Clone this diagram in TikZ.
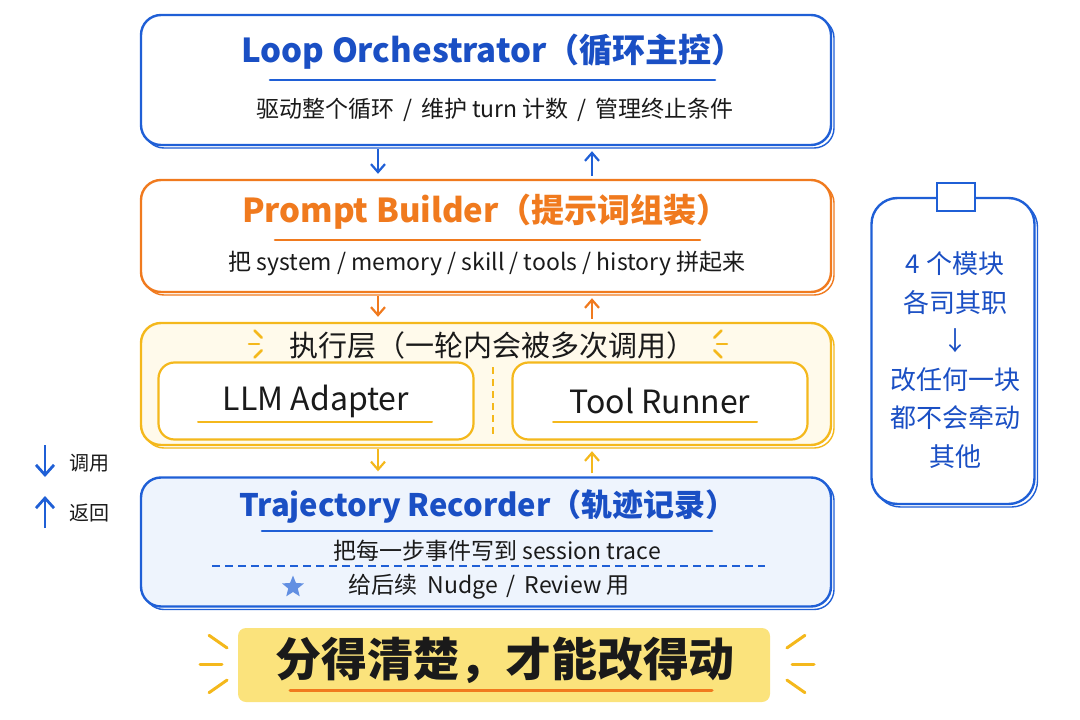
\documentclass[tikz,border=0pt]{standalone}
\usepackage{fontspec}
\setmainfont{Noto Sans CJK SC}
\usetikzlibrary{arrows.meta,positioning,shadows,shapes.geometric}

\definecolor{penblue}{HTML}{1F5FD6}
\definecolor{inkblue}{HTML}{1A4FC4}
\definecolor{penorange}{HTML}{F07A1E}
\definecolor{penyellow}{HTML}{F4B81C}
\definecolor{cream}{HTML}{FFFAEB}
\definecolor{iceblue}{HTML}{EEF4FD}
\definecolor{marker}{HTML}{FBE37C}
\definecolor{ink}{HTML}{1A1A1A}

\begin{document}
\begin{tikzpicture}[
  x=1pt,y=-1pt,
  panel/.style={rectangle,draw=#1,line width=2.4pt,rounded corners=20pt,minimum width=690pt,
    copy shadow={shadow xshift=3pt,shadow yshift=-3pt,draw=#1,line width=1.4pt,fill=white}},
  inner/.style={rectangle,draw=penyellow,line width=2.2pt,rounded corners=16pt,fill=white,
    minimum height=77pt,font=\fontsize{32}{36}\selectfont,text=ink},
  title/.style={font=\fontsize{33}{38}\selectfont\bfseries},
  sub/.style={font=\fontsize{23}{27}\selectfont,text=ink},
  uline/.style={line width=2.6pt,line cap=round},
  call/.style={-{Straight Barb[length=8pt,width=14pt]},line width=2.2pt,shorten <=3pt,shorten >=5pt},
  spark/.style={line width=2.6pt,line cap=round,penyellow}
]
\useasboundingbox (0,0) rectangle (1080,720);

% four modules
\node[panel=penblue,fill=white,minimum height=130pt] (loop) at (486,80) {};
\node[panel=penorange,fill=white,minimum height=112pt] (prompt) at (486,236) {};
\node[panel=penyellow,fill=cream,minimum height=122pt] (exec) at (486,384) {};
\node[panel=penblue,fill=iceblue,minimum height=129pt] (traj) at (486,542) {};

\node[title,text=inkblue] (looptitle) at (493,52) {Loop Orchestrator（循环主控）};
\draw[uline,penblue] (270,80) -- (715,80);
\node[sub] (loopsub) at (495,110) {驱动整个循环\ \,/\ \,维护 turn 计数\ \,/\ \,管理终止条件};

\node[title,text=penorange] (prompttitle) at (486,212) {Prompt Builder（提示词组装）};
\draw[uline,penorange] (275,240) -- (700,240);
\node[sub] (promptsub) at (487,264) {把 system / memory / skill / tools / history 拼起来};

\node[font=\fontsize{29}{34}\selectfont,text=ink] (exectitle) at (492,345) {执行层（一轮内会被多次调用）};
\node[inner,minimum width=315pt] (llm) at (316,401) {LLM Adapter};
\node[inner,minimum width=295pt] (tool) at (660,401) {Tool Runner};
\draw[uline,penyellow,line width=2pt] (198,422) -- (432,422);
\draw[uline,penyellow,line width=2pt] (553,422) -- (757,422);
\draw[penyellow,line width=1.5pt,dash pattern=on 7pt off 5pt] (493,367) -- (493,438);
\foreach \a in {135,180,225} {
  \draw[spark] ([shift={(\a:9)}]268,344) -- ([shift={(\a:19)}]268,344);
  \draw[spark] ([shift={(180-\a:9)}]708,344) -- ([shift={(180-\a:19)}]708,344);
}

\node[title,font=\fontsize{31}{36}\selectfont\bfseries,text=inkblue] (trajtitle) at (488,506) {Trajectory Recorder（轨迹记录）};
\draw[uline,penblue] (262,531) -- (712,531);
\node[sub] (trajsub) at (497,551) {把每一步事件写到 session trace};
\draw[penblue,line width=1.6pt,dash pattern=on 8pt off 5pt] (212,566) -- (765,566);
\node[star,star points=5,star point ratio=2.3,fill=penblue!70,inner sep=0pt,minimum size=23pt] (star) at (293,587) {};
\node[sub] (trajnote) at (489,587) {给后续\ \ Nudge\ \,/\ \,Review 用};

% calls and returns
\coordinate (dnx) at (378,0);
\coordinate (upx) at (592,0);
\draw[call,penblue] (loop.south -| dnx) -- (prompt.north -| dnx);
\draw[call,penblue] (prompt.north -| upx) -- (loop.south -| upx);
\draw[call,penorange] (prompt.south -| dnx) -- (exec.north -| dnx);
\draw[call,penorange] (exec.north -| upx) -- (prompt.south -| upx);
\draw[call,penyellow] (exec.south -| dnx) -- (traj.north -| dnx);
\draw[call,penyellow] (traj.north -| upx) -- (exec.south -| upx);

% legend
\node[font=\fontsize{20}{24}\selectfont,text=ink] (calllbl) at (89,463) {调用};
\node[font=\fontsize{20}{24}\selectfont,text=ink] (retlbl) at (89,513) {返回};
\coordinate (ca) at (45,445);
\coordinate (cb) at (45,477);
\coordinate (ra) at (45,528);
\coordinate (rb) at (45,496);
\draw[call,penblue,line width=2.8pt,shorten <=0pt,shorten >=0pt,-{Straight Barb[length=10pt,width=18pt]}] (ca) -- (cb);
\draw[call,penblue,line width=2.8pt,shorten <=0pt,shorten >=0pt,-{Straight Barb[length=10pt,width=18pt]}] (ra) -- (rb);

% side note
\node[rectangle,draw=penblue,line width=2.4pt,rounded corners=26pt,fill=white,
  minimum width=163pt,minimum height=306pt,
  copy shadow={shadow xshift=3pt,shadow yshift=-3pt,draw=penblue,line width=1.4pt,fill=white}] (memo) at (953,351) {};
\node[rectangle,draw=penblue,line width=2pt,fill=white,minimum width=38pt,minimum height=28pt] (tape) at (956,197) {};
\node[align=center,text=inkblue,font=\fontsize{26}{38.5}\selectfont] (memotext) at (955,360)
  {4 个模块\\各司其职\\↓\\改任何一块\\都不会牵动\\其他};

% motto
\node[fill=marker,rounded corners=8pt,minimum width=532pt,minimum height=74pt] (mottobg) at (504,665) {};
\node[font=\fontsize{46}{52}\selectfont\bfseries,text=ink] (motto) at (505,660) {分得清楚，才能改得动};
\draw[uline,penorange,line width=3pt] (290,690) -- (712,690);
\foreach \a in {145,180,215} {
  \draw[spark,line width=3pt] ([shift={(\a:28)}]250,664) -- ([shift={(\a:50)}]250,664);
  \draw[spark,line width=3pt] ([shift={(180-\a:28)}]764,664) -- ([shift={(180-\a:50)}]764,664);
}
\end{tikzpicture}
\end{document}
